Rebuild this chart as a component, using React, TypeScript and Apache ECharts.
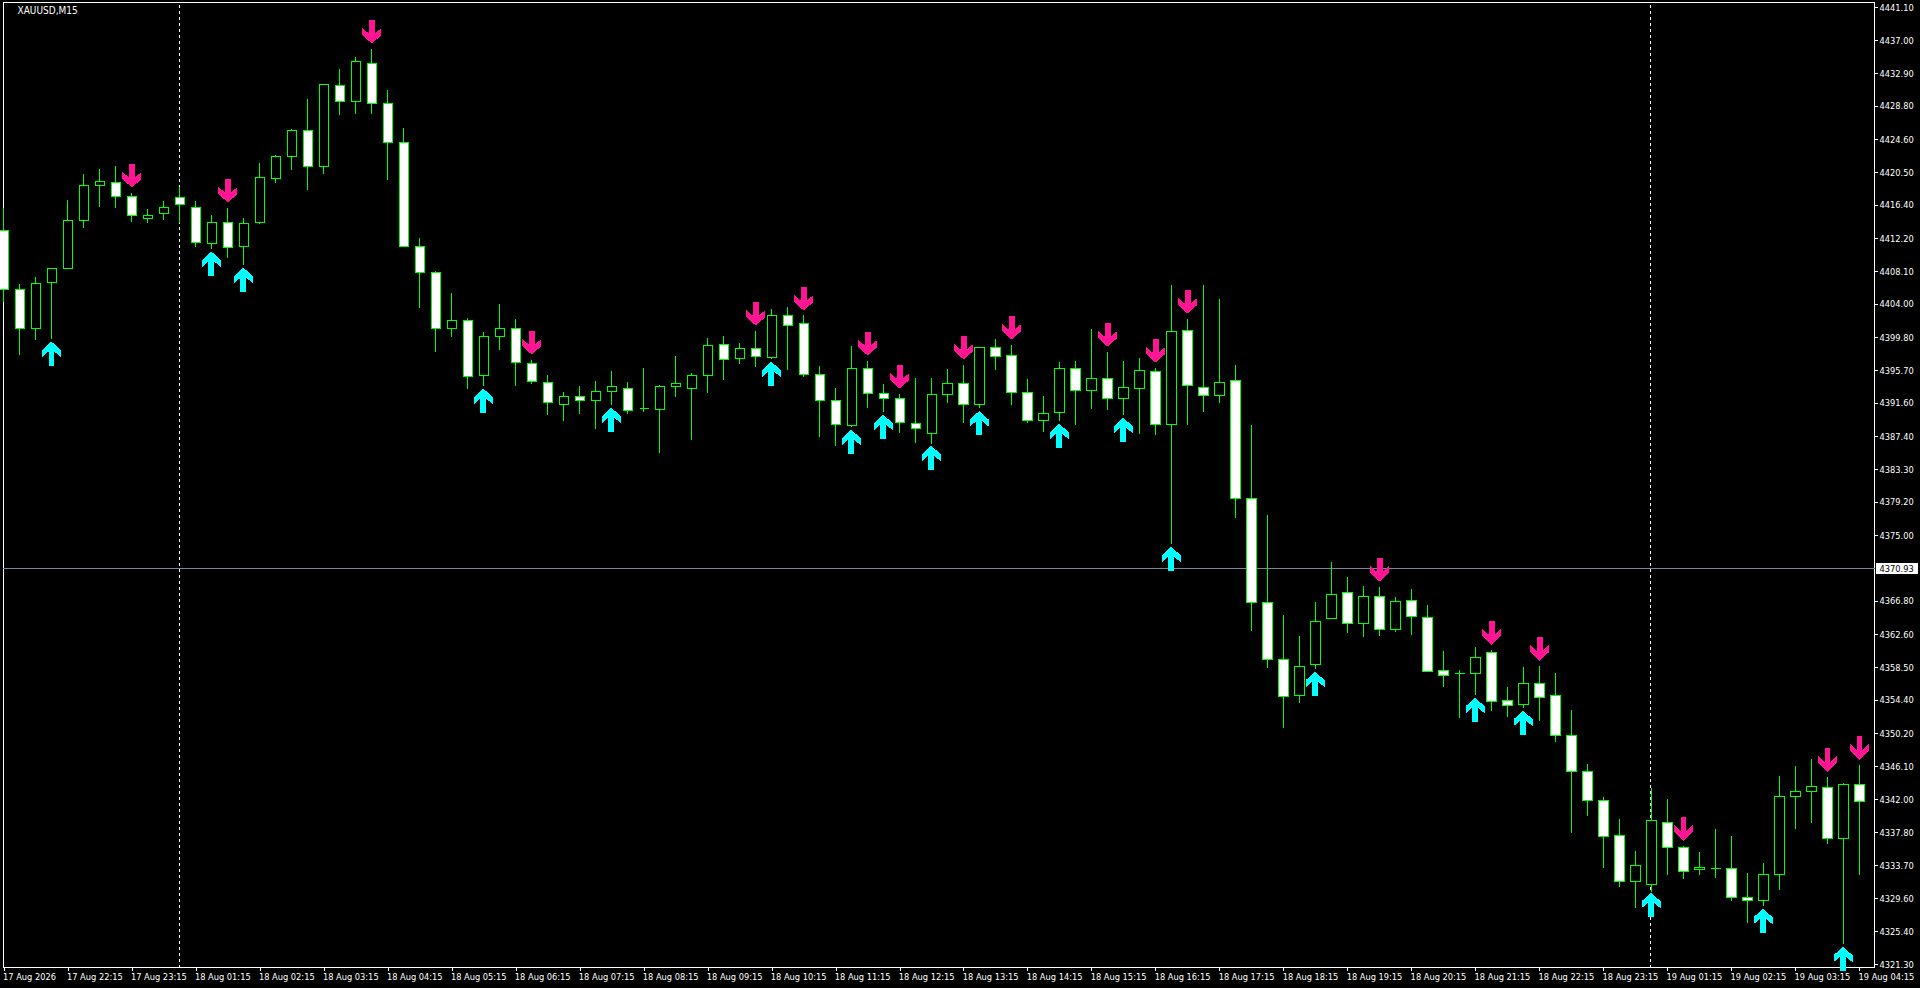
import React, { useEffect, useRef } from "react";
import * as echarts from "echarts";

const chartTitle = "XAUUSD,M15";
const currentPrice = 4370.93;
const separatorBars = [11, 103];

// [open, close, low, high]
const candleValues = [
  [4413.18, 4405.83, 4404.29, 4415.97],
  [4405.83, 4400.95, 4397.65, 4406.5],
  [4400.95, 4406.54, 4399.49, 4407.33],
  [4406.67, 4408.46, 4399.61, 4408.46],
  [4408.42, 4414.47, 4408.42, 4417.02],
  [4414.47, 4418.86, 4413.51, 4420.27],
  [4418.86, 4419.36, 4416.18, 4420.9],
  [4419.23, 4417.44, 4416.06, 4421.28],
  [4417.48, 4415.06, 4414.3, 4417.85],
  [4414.72, 4415.1, 4414.18, 4415.85],
  [4415.35, 4416.1, 4414.51, 4416.89],
  [4417.35, 4416.48, 4414.18, 4418.6],
  [4416.1, 4411.68, 4411.17, 4416.85],
  [4411.59, 4414.22, 4410.92, 4415.1],
  [4414.22, 4411.09, 4409.8, 4415.97],
  [4411.17, 4414.1, 4408.88, 4414.72],
  [4414.18, 4419.86, 4414.05, 4421.61],
  [4419.69, 4422.49, 4419.19, 4422.65],
  [4422.49, 4425.74, 4420.78, 4425.87],
  [4425.74, 4421.23, 4418.31, 4429.67],
  [4421.23, 4431.5, 4420.32, 4431.5],
  [4431.38, 4429.37, 4427.7, 4433.38],
  [4429.37, 4434.38, 4427.83, 4434.93],
  [4434.13, 4429.12, 4427.83, 4435.89],
  [4429.12, 4424.24, 4419.56, 4430.75],
  [4424.24, 4411.22, 4411.22, 4425.99],
  [4411.22, 4407.96, 4403.54, 4412.22],
  [4407.96, 4400.95, 4398.03, 4408.09],
  [4400.95, 4401.95, 4399.9, 4405.33],
  [4401.95, 4394.94, 4393.39, 4402.2],
  [4395.06, 4399.95, 4393.73, 4400.45],
  [4399.95, 4400.95, 4398.23, 4403.99],
  [4400.95, 4396.69, 4393.73, 4402.07],
  [4396.56, 4394.31, 4393.98, 4396.94],
  [4394.18, 4391.68, 4390.09, 4395.06],
  [4391.43, 4392.43, 4389.34, 4392.93],
  [4392.43, 4391.93, 4390.22, 4393.68],
  [4391.93, 4393.06, 4388.34, 4394.31],
  [4393.06, 4393.68, 4391.35, 4395.56],
  [4393.43, 4390.68, 4390.22, 4394.18],
  [4390.93, 4390.93, 4390.47, 4395.94],
  [4390.8, 4393.68, 4385.33, 4393.81],
  [4393.68, 4394.06, 4392.35, 4397.44],
  [4393.43, 4395.06, 4386.96, 4395.31],
  [4395.06, 4398.82, 4392.85, 4399.69],
  [4398.94, 4397.07, 4394.48, 4399.95],
  [4397.19, 4398.44, 4396.48, 4399.07],
  [4398.44, 4397.44, 4396.1, 4400.57],
  [4397.32, 4402.58, 4397.11, 4403.33],
  [4402.58, 4401.32, 4395.73, 4403.58],
  [4401.57, 4395.19, 4394.85, 4402.58],
  [4395.19, 4391.93, 4387.34, 4396.19],
  [4391.93, 4388.92, 4386.21, 4393.43],
  [4388.8, 4395.94, 4388.59, 4398.69],
  [4395.94, 4392.81, 4390.97, 4396.81],
  [4392.81, 4392.18, 4390.43, 4393.93],
  [4392.18, 4389.18, 4387.84, 4392.68],
  [4389.05, 4388.42, 4386.59, 4394.69],
  [4387.8, 4392.68, 4386.46, 4394.69],
  [4392.68, 4394.06, 4391.6, 4395.81],
  [4394.06, 4391.43, 4389.09, 4396.31],
  [4391.43, 4398.57, 4390.97, 4398.57],
  [4398.57, 4397.44, 4395.73, 4399.57],
  [4397.57, 4392.93, 4391.35, 4398.82],
  [4392.93, 4389.43, 4389.09, 4394.56],
  [4389.43, 4390.3, 4387.97, 4392.43],
  [4390.43, 4395.94, 4389.34, 4396.69],
  [4395.94, 4393.18, 4388.84, 4396.81],
  [4393.18, 4394.69, 4390.84, 4400.82],
  [4394.69, 4392.18, 4390.72, 4397.94],
  [4392.18, 4393.56, 4390.09, 4396.81],
  [4393.43, 4395.69, 4387.71, 4397.19],
  [4395.56, 4388.92, 4387.59, 4395.94],
  [4388.92, 4400.57, 4373.94, 4406.33],
  [4400.7, 4393.81, 4388.84, 4402.07],
  [4393.56, 4392.56, 4390.47, 4406.33],
  [4392.56, 4394.18, 4391.6, 4404.58],
  [4394.44, 4379.66, 4377.24, 4396.31],
  [4379.66, 4366.63, 4363.09, 4388.8],
  [4366.63, 4359.5, 4358.45, 4377.53],
  [4359.5, 4354.86, 4350.94, 4365.01],
  [4354.99, 4358.62, 4354.07, 4362.38],
  [4358.87, 4364.26, 4358.33, 4366.63],
  [4364.63, 4367.64, 4364.51, 4371.64],
  [4367.89, 4364.0, 4362.84, 4369.77],
  [4364.0, 4367.39, 4362.34, 4368.64],
  [4367.39, 4363.25, 4362.46, 4368.51],
  [4363.25, 4366.76, 4362.96, 4367.26],
  [4366.88, 4364.88, 4362.59, 4368.26],
  [4364.76, 4357.99, 4357.99, 4366.26],
  [4358.12, 4357.49, 4356.07, 4360.5],
  [4357.7, 4357.7, 4352.19, 4358.12],
  [4357.74, 4359.75, 4355.07, 4361.0],
  [4360.37, 4354.24, 4353.07, 4360.67],
  [4354.36, 4353.74, 4352.32, 4355.99],
  [4353.86, 4356.49, 4353.44, 4358.49],
  [4356.49, 4354.74, 4351.82, 4358.62],
  [4354.99, 4349.98, 4349.19, 4357.74],
  [4349.98, 4345.47, 4337.75, 4353.11],
  [4345.47, 4341.84, 4339.88, 4346.35],
  [4341.84, 4337.33, 4333.37, 4342.22],
  [4337.46, 4331.7, 4330.99, 4339.46],
  [4331.7, 4333.7, 4328.36, 4335.45],
  [4331.32, 4339.33, 4330.4, 4343.34],
  [4339.08, 4335.95, 4332.49, 4341.96],
  [4335.95, 4332.95, 4332.03, 4336.08],
  [4333.2, 4333.45, 4332.49, 4335.33],
  [4333.32, 4333.32, 4332.16, 4338.21],
  [4333.32, 4329.69, 4329.23, 4337.33],
  [4329.69, 4329.32, 4326.48, 4332.7],
  [4329.32, 4332.57, 4328.61, 4333.95],
  [4332.57, 4342.34, 4330.61, 4344.84],
  [4342.34, 4342.97, 4338.25, 4346.1],
  [4342.97, 4343.59, 4339.0, 4346.97],
  [4343.47, 4337.08, 4336.37, 4344.72],
  [4337.08, 4343.84, 4323.85, 4343.97],
  [4343.84, 4341.71, 4332.49, 4346.22],
];

// [bar index, price]
const downArrows = [
  [8, 4420.07], [14, 4418.19], [23, 4438.1], [33, 4399.15], [47, 4402.78], [50, 4404.66],
  [54, 4399.03], [56, 4394.89], [60, 4398.53], [63, 4401.03], [69, 4400.15], [72, 4398.15],
  [74, 4404.29], [86, 4370.73], [93, 4362.84], [96, 4360.83], [105, 4338.29], [114, 4346.93],
  [116, 4348.43],
];
const upArrows = [
  [3, 4397.78], [13, 4409.05], [15, 4407.04], [30, 4391.89], [38, 4389.51], [48, 4395.27],
  [53, 4386.75], [55, 4388.63], [58, 4384.75], [61, 4389.09], [66, 4387.51], [70, 4388.26],
  [73, 4372.1], [82, 4356.45], [92, 4353.19], [95, 4351.57], [103, 4328.77], [110, 4326.77],
  [115, 4322.01],
];

const priceTicks = [
  4441.1, 4437.0, 4432.9, 4428.8, 4424.6, 4420.5, 4416.4, 4412.2, 4408.1, 4404.0, 4399.8,
  4395.7, 4391.6, 4387.4, 4383.3, 4379.2, 4375.0, 4366.8, 4362.6, 4358.5, 4354.4, 4350.2,
  4346.1, 4342.0, 4337.8, 4333.7, 4329.6, 4325.4, 4321.3,
];

const timeLabels = [
  "17 Aug 2026", "17 Aug 22:15", "17 Aug 23:15", "18 Aug 01:15", "18 Aug 02:15", "18 Aug 03:15",
  "18 Aug 04:15", "18 Aug 05:15", "18 Aug 06:15", "18 Aug 07:15", "18 Aug 08:15", "18 Aug 09:15",
  "18 Aug 10:15", "18 Aug 11:15", "18 Aug 12:15", "18 Aug 13:15", "18 Aug 14:15", "18 Aug 15:15",
  "18 Aug 16:15", "18 Aug 17:15", "18 Aug 18:15", "18 Aug 19:15", "18 Aug 20:15", "18 Aug 21:15",
  "18 Aug 22:15", "18 Aug 23:15", "19 Aug 01:15", "19 Aug 02:15", "19 Aug 03:15", "19 Aug 04:15",
];
const timeLabelStep = 4;
const timeTickBars = timeLabels.map((_, i) => i * timeLabelStep);

const UP_ARROW = "path://M29 0L58 26L58 47L38 30L38 72L20 72L20 30L0 47L0 26Z";
const DOWN_ARROW = "path://M20 0L38 0L38 42L58 25L58 46L29 72L0 46L0 25L20 42Z";
const FONT = "'DejaVu Sans Condensed', 'Liberation Sans', sans-serif";
const FONT_SIZE = 9.2;
// The non-antialiased vertical separator lands one pixel right of the bar centre without this nudge (1px in bar units).
const SEPARATOR_NUDGE = -0.0625;

export default function App() {
  const ref = useRef<HTMLDivElement>(null);

  useEffect(() => {
    document.body.style.margin = "0";
    document.body.style.background = "#000";
    const chart = echarts.init(ref.current!, undefined, { renderer: "svg" });
    chart.setOption({
      animation: false,
      backgroundColor: "#000",
      title: {
        text: chartTitle,
        left: 12.5,
        top: 0,
        textStyle: { color: "#fff", fontFamily: FONT, fontSize: 10, fontWeight: "normal" },
      },
      grid: {
        left: 2.5,
        top: 2.5,
        width: 1872,
        height: 965,
        show: true,
        borderColor: "#fff",
        borderWidth: 1,
        backgroundColor: "#000",
      },
      xAxis: {
        type: "value",
        min: -0.0625,
        max: 116.9375,
        splitLine: { show: false },
        axisLine: { show: false, onZero: false },
        axisTick: {
          show: true,
          length: 3,
          customValues: timeTickBars,
          lineStyle: { color: "#fff", width: 1 },
        },
        axisLabel: {
          show: true,
          customValues: timeTickBars,
          formatter: (v: number) => timeLabels[Math.round(v / timeLabelStep)] ?? "",
          color: "#fff",
          fontFamily: FONT,
          fontSize: FONT_SIZE,
          align: "left",
          margin: 4,
          padding: [0, 0, 0, -1],
          hideOverlap: false,
        },
      },
      yAxis: {
        type: "value",
        position: "right",
        min: 4320.9,
        max: 4441.75,
        splitLine: { show: false },
        axisLine: { show: false, onZero: false },
        axisTick: {
          show: true,
          length: 3,
          customValues: priceTicks,
          lineStyle: { color: "#fff", width: 1 },
        },
        axisLabel: {
          show: true,
          customValues: priceTicks,
          formatter: (v: number) => v.toFixed(2),
          color: "#fff",
          fontFamily: FONT,
          fontSize: FONT_SIZE,
          margin: 5,
          hideOverlap: false,
        },
      },
      series: [
        {
          type: "candlestick",
          z: 3,
          barWidth: 10,
          clip: true,
          encode: { x: 0, y: [1, 2, 3, 4] },
          itemStyle: {
            color: "#000000",
            color0: "#ffffff",
            borderColor: "#00ff00",
            borderColor0: "#00ff00",
            borderWidth: 1,
          },
          data: candleValues.map((row, i) => [i, ...row]),
          markLine: {
            silent: true,
            z: 1,
            symbol: "none",
            precision: 4,
            animation: false,
            label: { show: false },
            data: [
              ...separatorBars.map((bar) => ({
                xAxis: bar + SEPARATOR_NUDGE,
                lineStyle: { color: "#fff", type: [3, 3], width: 1 },
                label: { show: false },
              })),
              {
                yAxis: currentPrice,
                lineStyle: { color: "#778899", type: "solid", width: 1 },
                label: {
                  show: true,
                  position: "end",
                  distance: 1,
                  formatter: currentPrice.toFixed(2),
                  color: "#000",
                  backgroundColor: "#fff",
                  fontFamily: FONT,
                  fontSize: FONT_SIZE,
                  padding: [1, 4, 1, 4],
                },
              },
            ],
          },
        },
        {
          type: "scatter",
          z: 4,
          clip: true,
          symbol: UP_ARROW,
          symbolSize: [19, 24],
          symbolOffset: [-0.5, 0],
          itemStyle: { color: "#00ffff", opacity: 1 },
          data: upArrows,
        },
        {
          type: "scatter",
          z: 4,
          clip: true,
          symbol: DOWN_ARROW,
          symbolSize: [19, 24],
          itemStyle: { color: "#ff1493", opacity: 1 },
          data: downArrows,
        },
      ],
    });
    return () => chart.dispose();
  }, []);

  return (
    <div
      ref={ref}
      style={{
        position: "fixed",
        left: 0,
        top: 0,
        width: 1920,
        height: 988,
        background: "#000",
        shapeRendering: "crispEdges",
      } as React.CSSProperties}
    />
  );
}
